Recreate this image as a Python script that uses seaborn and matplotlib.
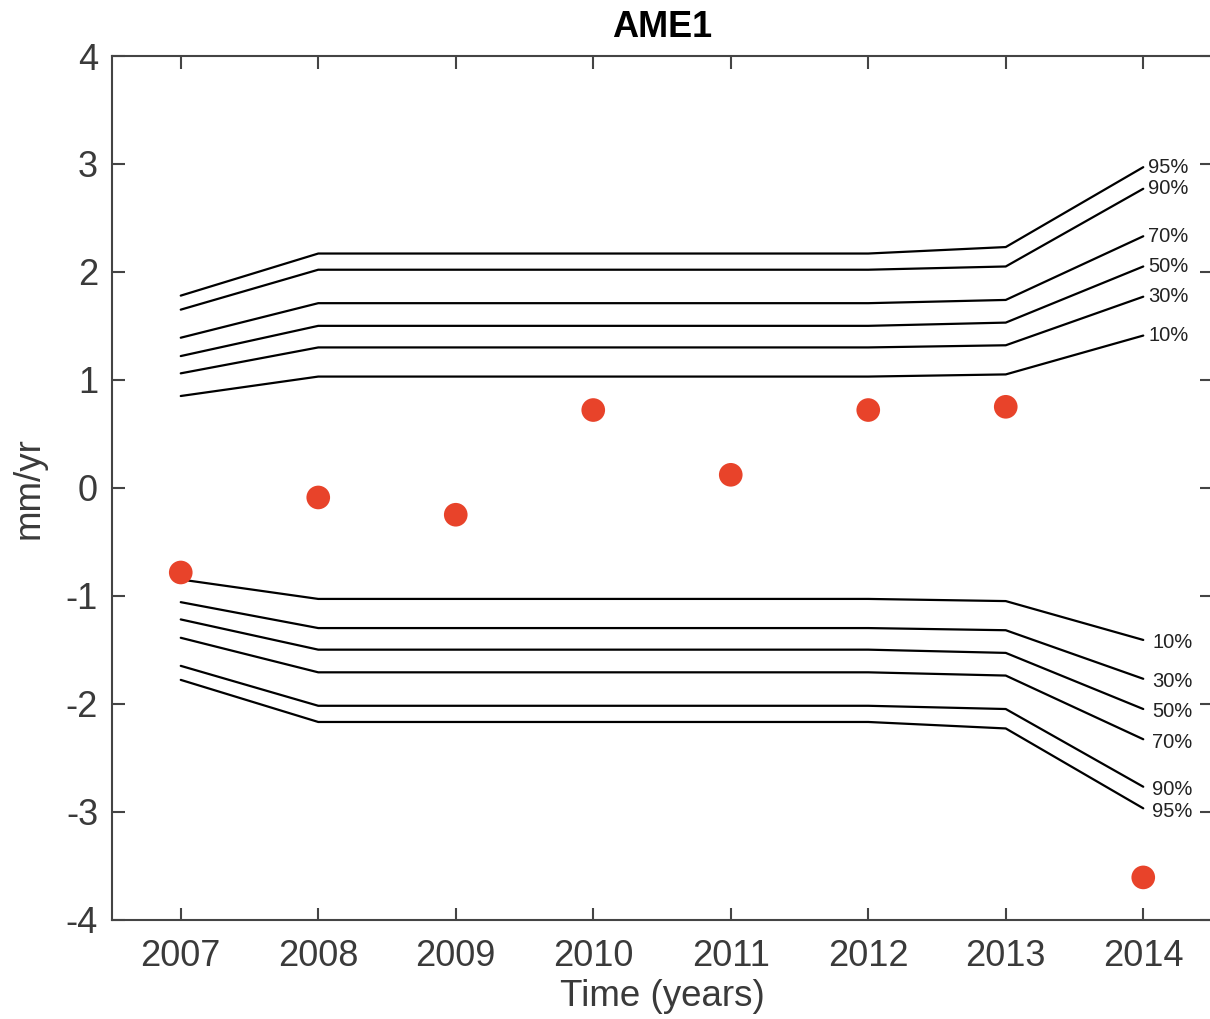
import numpy as np
import pandas as pd
import matplotlib
matplotlib.use("Agg")
import matplotlib.pyplot as plt
import seaborn as sns

years = [2007, 2008, 2009, 2010, 2011, 2012, 2013, 2014]
levels = ["10%", "30%", "50%", "70%", "90%", "95%"]
band_10 = [0.85, 1.03, 1.03, 1.03, 1.03, 1.03, 1.05, 1.41]
band_30 = [1.06, 1.30, 1.30, 1.30, 1.30, 1.30, 1.32, 1.77]
band_50 = [1.22, 1.50, 1.50, 1.50, 1.50, 1.50, 1.53, 2.05]
band_70 = [1.39, 1.71, 1.71, 1.71, 1.71, 1.71, 1.74, 2.33]
band_90 = [1.65, 2.02, 2.02, 2.02, 2.02, 2.02, 2.05, 2.77]
band_95 = [1.78, 2.17, 2.17, 2.17, 2.17, 2.17, 2.23, 2.97]
rates = [-0.785, -0.09, -0.25, 0.72, 0.12, 0.72, 0.75, -3.61]

title = "AME1"
xlabel = "Time (years)"
ylabel = "mm/yr"

bands = [band_10, band_30, band_50, band_70, band_90, band_95]

rows = []
for lev, vals in zip(levels, bands):
    for yr, v in zip(years, vals):
        rows.append({"year": yr, "value": v, "level": lev, "side": "upper"})
        rows.append({"year": yr, "value": -v, "level": lev, "side": "lower"})
lines_df = pd.DataFrame(rows)
pts_df = pd.DataFrame({"year": years, "rate": rates})

sns.set_theme(style="white")
plt.rcParams["font.family"] = ["Liberation Sans", "DejaVu Sans"]

fig = plt.figure(figsize=(12.1, 10.19), dpi=100)
ax = fig.add_axes([112 / 1210, 1 - 919.5 / 1019, 1100 / 1210, (919.5 - 56) / 1019])

for (lev, side), g in lines_df.groupby(["level", "side"]):
    sns.lineplot(data=g, x="year", y="value", ax=ax, color="black",
                 linewidth=1.6, legend=False, estimator=None, sort=True)

sns.scatterplot(data=pts_df, x="year", y="rate", ax=ax, color="#E8432A",
                s=290, edgecolor="none", zorder=5, legend=False)

# labels at line ends
for lev, vals in zip(levels, bands):
    ax.annotate(lev, xy=(years[-1], vals[-1]), xytext=(3.5, 0),
                textcoords="offset points", ha="left", va="center",
                fontsize=14.5, color="#222222")
    ax.annotate(lev, xy=(years[-1], -vals[-1]), xytext=(6.5, -2),
                textcoords="offset points", ha="left", va="center",
                fontsize=14.5, color="#222222")

ax.set_xlim(2006.5, 2014.5)
ax.set_ylim(-4, 4)
ax.set_xticks(years)
ax.set_xticklabels([str(y) for y in years])
ax.set_yticks(range(-4, 5))
ax.set_yticklabels([str(v) for v in range(-4, 5)])

for sp in ax.spines.values():
    sp.set_visible(True)
    sp.set_color("#444444")
    sp.set_linewidth(1.5)

ax.tick_params(axis="both", direction="in", length=9, width=1.5,
               color="#444444", labelcolor="#3a3a3a", labelsize=26,
               top=True, right=True, bottom=True, left=True)
ax.tick_params(axis="x", pad=14)
ax.tick_params(axis="y", pad=10)

ax.set_title(title, fontsize=26, fontweight="bold", color="black", pad=14)
ax.set_xlabel(xlabel, fontsize=26.5, color="#3a3a3a", labelpad=4)
ax.set_ylabel(ylabel, fontsize=26.5, color="#3a3a3a", labelpad=14)

fig.savefig("out.png", dpi=100, facecolor="white")
